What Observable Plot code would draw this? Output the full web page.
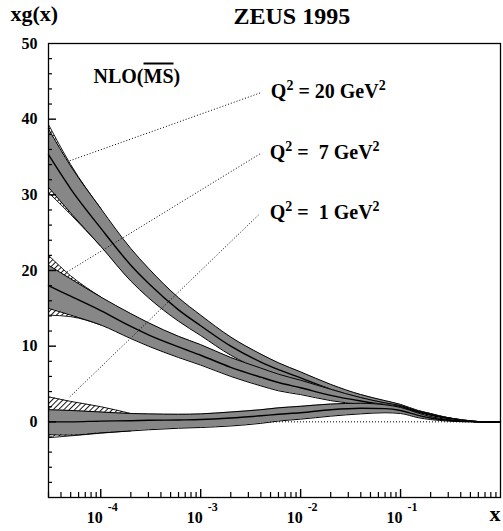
<!DOCTYPE html>
<html><head><meta charset="utf-8">
<script src="https://cdn.jsdelivr.net/npm/d3@7"></script>
<script src="https://cdn.jsdelivr.net/npm/@observablehq/plot@0.6"></script>
<style>body{margin:0;background:#fff}</style>
</head><body><div id="chart"></div>
<script>
// x grid (log x) at which the bands were read
const xGrid = [3e-5, 5e-5, 1e-4, 2e-4, 3e-4, 6e-4, 1e-3, 2e-3, 4e-3, 6e-3, 1e-2, 2e-2, 4e-2, 7e-2, 0.1, 0.15, 0.2, 0.3, 0.4, 0.6, 1];

// Q^2 = 20 GeV^2
const q20Lo  = [31.0, 27.6, 23.2, 18.6, 16.4, 13.3, 11.4, 8.8, 6.9, 6.05, 5.1, 3.7, 2.7, 2.1, 1.9, 1.3, 0.9, 0.45, 0.2, 0, 0];
const q20Mid = [35.3, 30.8, 25.6, 20.7, 18.3, 14.8, 12.7, 10.0, 7.9, 6.9, 5.8, 4.3, 3.15, 2.45, 2.1, 1.4, 1.0, 0.5, 0.25, 0.02, 0];
const q20Hi  = [38.7, 33.8, 28.2, 22.9, 20.3, 16.4, 14.1, 11.2, 8.95, 7.8, 6.6, 4.95, 3.6, 2.8, 2.3, 1.5, 1.1, 0.55, 0.3, 0.04, 0];
const q20HatchLo = [30.3, 27.4, 23.2];
const q20HatchHi = [39.3, 34.0, 28.2];

// Q^2 = 7 GeV^2
const q7Lo  = [15.0, 14.1, 12.8, 11.0, 10.0, 8.5, 7.5, 6.0, 4.75, 4.1, 3.6, 2.8, 2.3, 2.0, 1.85, 1.25, 0.85, 0.4, 0.18, 0, 0];
const q7Mid = [18.0, 16.6, 14.7, 12.6, 11.5, 9.9, 8.8, 7.2, 5.9, 5.2, 4.5, 3.5, 2.75, 2.25, 2.0, 1.35, 0.95, 0.47, 0.22, 0.02, 0];
const q7Hi  = [20.7, 18.9, 16.5, 14.3, 13.1, 11.3, 10.2, 8.5, 7.1, 6.3, 5.5, 4.3, 3.2, 2.5, 2.15, 1.45, 1.05, 0.52, 0.26, 0.03, 0];
const q7HatchLo = [14.1, 13.9, 12.8];
const q7HatchHi = [22.0, 19.3, 16.5];

// Q^2 = 1 GeV^2
const q1Lo  = [-1.7, -1.75, -1.45, -1.2, -1.05, -0.85, -0.75, -0.55, -0.2, 0.1, 0.35, 0.75, 1.05, 1.2, 1.1, 0.55, 0.3, 0.1, 0.02, 0, 0];
const q1Mid = [0.0, 0.0, 0.1, 0.15, 0.2, 0.25, 0.3, 0.5, 0.8, 1.0, 1.2, 1.6, 1.8, 1.75, 1.5, 0.85, 0.5, 0.2, 0.08, 0.01, 0];
const q1Hi  = [1.6, 1.5, 1.3, 1.1, 1.05, 1.0, 1.05, 1.3, 1.6, 1.85, 2.05, 2.35, 2.45, 2.25, 1.9, 1.15, 0.7, 0.3, 0.12, 0.02, 0];
const q1HatchLo = [-2.1, -1.85, -1.5, -1.2];
const q1HatchHi = [3.3, 2.7, 2.0, 1.1];

// labels and leader lines
const qLabels = ["Q² = 20 GeV²", "Q² =\u00a0 7 GeV²", "Q² =\u00a0 1 GeV²"];
const leaderStartX = [4.9e-5, 4.6e-5, 4.9e-5];
const leaderStartY = [34.5, 19.8, 3.3];
const leaderEndX = [4.0e-3, 3.9e-3, 3.9e-3];
const leaderEndY = [43.5, 35.4, 27.5];

// axes
const yLabels = [0, 10, 20, 30, 40, 50];
const xDecades = [1e-4, 1e-3, 1e-2, 1e-1];
const xExponents = ["-4", "-3", "-2", "-1"];
const xDomain = [3e-5, 1];
const yDomain = [-10, 50];

const xMinor = [];
for (const d of [1e-5, 1e-4, 1e-3, 1e-2, 1e-1]) for (let k = 2; k <= 9; k++) { const v = k * d; if (v >= xDomain[0] * 0.999 && v < 1) xMinor.push(v); }
const yMajor = [0, 10, 20, 30, 40];
const yMinor = [];
for (let v = -8; v < 50; v += 2) if (v % 10 !== 0) yMinor.push(v);

const W = 503, H = 531, ML = 48, MR = 3, MT = 43, MB = 34;
const FW = W - ML - MR, FH = H - MT - MB;

const bands = [
  {lo: q20Lo, mid: q20Mid, hi: q20Hi, hLo: q20HatchLo, hHi: q20HatchHi},
  {lo: q7Lo, mid: q7Mid, hi: q7Hi, hLo: q7HatchLo, hHi: q7HatchHi},
  {lo: q1Lo, mid: q1Mid, hi: q1Hi, hLo: q1HatchLo, hHi: q1HatchHi}
];

const curve = "monotone-x";
const FONT = "'Liberation Serif', 'Times New Roman', serif";
const marks = [];
marks.push(Plot.ruleY([0], {stroke: "black", strokeDasharray: "1,2", strokeWidth: 1}));
for (const b of bands) {
  const rows = xGrid.map((x, i) => ({x, lo: b.lo[i], mid: b.mid[i], hi: b.hi[i]}));
  const hrows = b.hHi.map((v, i) => ({x: xGrid[i], lo: b.hLo[i], hi: v}));
  marks.push(Plot.areaY(hrows, {x: "x", y1: "lo", y2: "hi", fill: "url(#hatch)", curve}));
  marks.push(Plot.line(hrows, {x: "x", y: "hi", stroke: "black", strokeWidth: 0.9, curve}));
  marks.push(Plot.line(hrows, {x: "x", y: "lo", stroke: "black", strokeWidth: 0.9, curve}));
  marks.push(Plot.areaY(rows, {x: "x", y1: "lo", y2: "hi", fill: "#878787", curve}));
  marks.push(Plot.line(rows, {x: "x", y: "lo", stroke: "black", strokeWidth: 1, curve}));
  marks.push(Plot.line(rows, {x: "x", y: "hi", stroke: "black", strokeWidth: 1, curve}));
  marks.push(Plot.line(rows, {x: "x", y: "mid", stroke: "black", strokeWidth: 1.4, curve}));
}
const leaders = qLabels.map((t, i) => ({t, x1: leaderStartX[i], y1: leaderStartY[i], x2: leaderEndX[i], y2: leaderEndY[i]}));
marks.push(Plot.link(leaders, {x1: "x1", y1: "y1", x2: "x2", y2: "y2", stroke: "black", strokeDasharray: "1,2", strokeWidth: 1}));
marks.push(Plot.text(leaders, {x: "x2", y: "y2", text: "t", dx: 10, dy: -1, textAnchor: "start", fontSize: 20, fontWeight: "bold", fontFamily: FONT}));

// frame and inward ticks
marks.push(Plot.frame({stroke: "black", strokeWidth: 1.3}));
marks.push(Plot.tickX(xDecades, {x: d => d, insetTop: FH - 8, stroke: "black", strokeWidth: 1.4}));
marks.push(Plot.tickX(xMinor, {x: d => d, insetTop: FH - 5, stroke: "black", strokeWidth: 1.2}));
marks.push(Plot.tickY(yMajor, {y: d => d, insetRight: FW - 8, stroke: "black", strokeWidth: 1.4}));
marks.push(Plot.tickY(yMinor, {y: d => d, insetRight: FW - 4, stroke: "black", strokeWidth: 1.2}));

// tick labels
marks.push(Plot.text(yLabels, {y: d => d, frameAnchor: "left", text: d => String(d), dx: -11, textAnchor: "end", fontSize: 16, fontWeight: "bold", fontFamily: FONT}));
marks.push(Plot.text(xDecades, {x: d => d, frameAnchor: "bottom", text: () => "10", dx: 2, dy: 25, textAnchor: "end", lineAnchor: "bottom", fontSize: 16, fontWeight: "bold", fontFamily: FONT}));
marks.push(Plot.text(xDecades, {x: d => d, frameAnchor: "bottom", text: (d, i) => xExponents[i], dx: 7, dy: 13, textAnchor: "start", lineAnchor: "bottom", fontSize: 12, fontWeight: "bold", fontFamily: FONT}));

// titles
marks.push(Plot.text(["ZEUS 1995"], {frameAnchor: "top-left", text: d => d, dx: 185, dy: -20, textAnchor: "start", lineAnchor: "bottom", fontSize: 24, fontWeight: "bold", fontFamily: FONT}));
marks.push(Plot.text(["xg(x)"], {frameAnchor: "top-left", text: d => d, dx: -38, dy: -23, textAnchor: "start", lineAnchor: "bottom", fontSize: 22, fontWeight: "bold", fontFamily: FONT}));
marks.push(Plot.text(["x"], {frameAnchor: "bottom-right", text: d => d, dx: 0, dy: 23, textAnchor: "end", lineAnchor: "bottom", fontSize: 22, fontWeight: "bold", fontFamily: FONT}));
marks.push(Plot.text(["NLO(MS)"], {frameAnchor: "top-left", text: d => d, dx: 45, dy: 39, textAnchor: "start", lineAnchor: "bottom", fontSize: 20, fontWeight: "bold", fontFamily: FONT}));

const svg = Plot.plot({
  width: W, height: H,
  marginLeft: ML, marginRight: MR, marginTop: MT, marginBottom: MB,
  style: {fontFamily: FONT, background: "white", color: "black"},
  x: {type: "log", domain: xDomain, axis: null},
  y: {domain: yDomain, axis: null},
  marks
});
d3.select(svg).insert("defs", ":first-child").html(
  '<pattern id="hatch" patternUnits="userSpaceOnUse" width="3.8" height="3.8" patternTransform="rotate(45)"><rect width="3.8" height="3.8" fill="white"/><line x1="0.5" y1="0" x2="0.5" y2="3.8" stroke="black" stroke-width="0.9"/></pattern>'
);
// overline on MS
d3.select(svg).selectAll("text").filter(function() { return this.textContent === "NLO(MS)"; }).each(function() {
  const t = d3.select(this);
  t.text("");
  t.append("tspan").text("NLO(");
  t.append("tspan").style("text-decoration", "overline").text("MS");
  t.append("tspan").text(")");
});
// raised superscript 2 in the Q^2 labels
d3.select(svg).selectAll("text").filter(function() { return this.textContent.includes("²"); }).each(function() {
  const parts = this.textContent.split("²");
  const t = d3.select(this);
  t.text("");
  parts.forEach((p, i) => {
    if (i > 0) {
      t.append("tspan").attr("dy", -8).attr("font-size", 14).text("2");
      if (p) t.append("tspan").attr("dy", 8).text(p);
    } else if (p) {
      t.append("tspan").text(p);
    }
  });
});
document.getElementById("chart").appendChild(svg);
</script>
</body></html>
